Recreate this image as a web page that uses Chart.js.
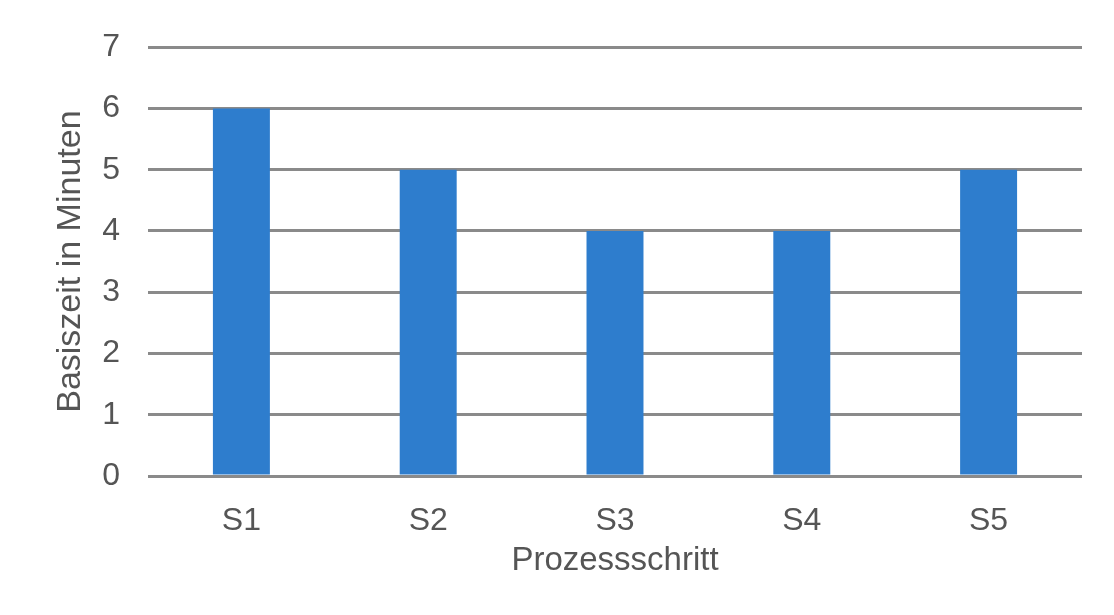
<!DOCTYPE html>
<html lang="de">
<head>
<meta charset="utf-8">
<title>Basiszeit je Prozessschritt</title>
<script src="https://cdn.jsdelivr.net/npm/chart.js@4/dist/chart.umd.min.js"></script>
<style>
  html, body { margin: 0; padding: 0; background: #ffffff; }
  #wrap { width: 1114px; height: 615px; }
</style>
</head>
<body>
<div id="wrap"><canvas id="zeitChart" width="1114" height="615"></canvas></div>
<script>
// Basiszeit pro Prozessschritt (Minuten)
const schritte = ['S1', 'S2', 'S3', 'S4', 'S5'];
const basiszeit = [6, 5, 4, 4, 5];
const yMax = 7;

const textColor = '#555555';
const fontFamily = '"Liberation Sans", Arial, sans-serif';

const ctx = document.getElementById('zeitChart').getContext('2d');
new Chart(ctx, {
    type: 'bar',
    data: {
        labels: schritte,
        datasets: [{
            label: 'Basiszeit',
            data: basiszeit,
            backgroundColor: '#2e7dcd',
            borderWidth: 0,
            barPercentage: 0.305,
            categoryPercentage: 1.0
        }]
    },
    options: {
        responsive: false,
        animation: false,
        layout: {
            padding: { left: 40, right: 32, top: 47, bottom: 20 }
        },
        scales: {
            x: {
                grid: { display: false },
                border: { display: false },
                ticks: {
                    color: textColor,
                    font: { family: fontFamily, size: 32 },
                    padding: 18
                },
                title: {
                    display: true,
                    text: 'Prozessschritt',
                    color: textColor,
                    font: { family: fontFamily, size: 33 },
                    padding: { top: 0, bottom: 14 }
                },
                afterFit: function (scale) { scale.height = 615 - 20 - 476; }
            },
            y: {
                min: 0,
                max: yMax,
                grid: {
                    color: '#8a8a8a',
                    lineWidth: 3,
                    drawTicks: false
                },
                border: { display: false },
                ticks: {
                    stepSize: 1,
                    color: textColor,
                    font: { family: fontFamily, size: 32 },
                    padding: 28
                },
                title: {
                    display: true,
                    text: 'Basiszeit in Minuten',
                    color: textColor,
                    font: { family: fontFamily, size: 34 },
                    padding: { top: 10, bottom: 0 }
                },
                afterFit: function (scale) { scale.width = 148 - 40; }
            }
        },
        plugins: {
            legend: { display: false },
            tooltip: { enabled: false }
        }
    }
});
</script>
</body>
</html>
